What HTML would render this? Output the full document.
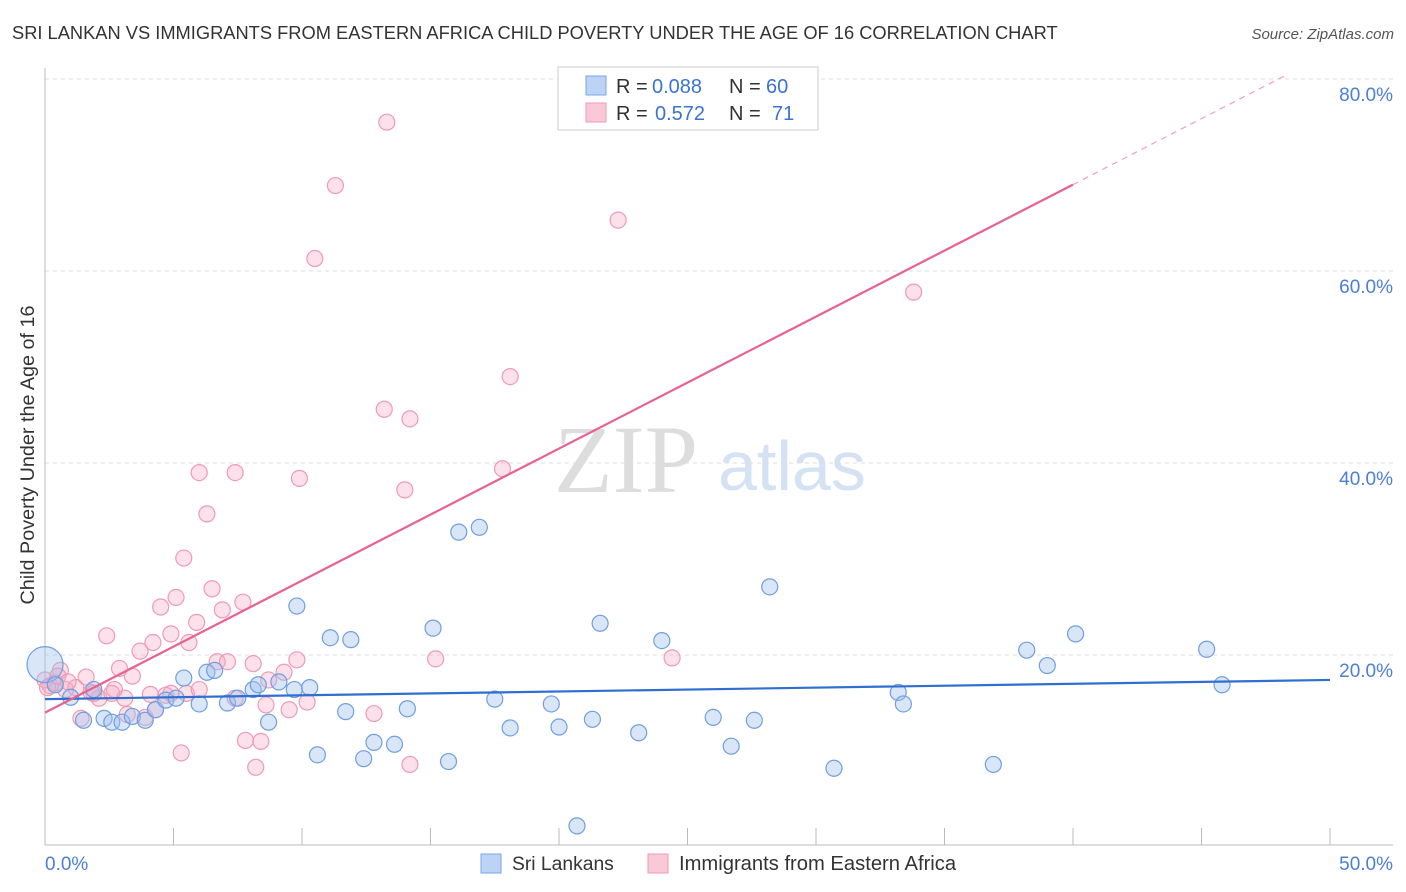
<!DOCTYPE html>
<html><head><meta charset="utf-8"><style>
body{margin:0;background:#fff;font-family:"Liberation Sans",sans-serif;}
#c{position:relative;width:1406px;height:892px;overflow:hidden;}
</style></head><body>
<div id="c">
<svg id="s" width="1406" height="892" xmlns="http://www.w3.org/2000/svg">
<text x="12" y="39" font-size="18.3" fill="#333">SRI LANKAN VS IMMIGRANTS FROM EASTERN AFRICA CHILD POVERTY UNDER THE AGE OF 16 CORRELATION CHART</text>
<text x="1394" y="39" font-size="15" fill="#555" font-style="italic" text-anchor="end">Source: ZipAtlas.com</text>
<text x="554" y="492" font-size="96" fill="#ddd" font-family="Liberation Serif">ZIP</text>
<text x="718" y="490" font-size="70" fill="#d4e2f4">atlas</text>
<text transform="translate(34,455) rotate(-90)" font-size="19.8" fill="#333" text-anchor="middle">Child Poverty Under the Age of 16</text>
<g id="grid"></g><g id="pts"></g><g id="lines"></g>
<rect x="558" y="67" width="260" height="63" fill="#fff" stroke="#ccc"/>
<rect x="586" y="76" width="20" height="19" fill="#bcd3f5" stroke="#7aa6e6"/>
<rect x="586" y="103" width="20" height="19" fill="#f9c9d8" stroke="#ef9ab5"/>
<g font-size="20" fill="#333">
<text x="616" y="93">R =</text><text x="652" y="93" fill="#3b73d1">0.088</text><text x="729" y="93">N =</text><text x="766" y="93" fill="#3b73d1">60</text></g>
<g font-size="20" fill="#333">
<text x="616" y="120">R =</text><text x="655" y="120" fill="#3b73d1">0.572</text><text x="729" y="120">N =</text><text x="772" y="120" fill="#3b73d1">71</text></g>
<rect x="481" y="854" width="20" height="19" fill="#bcd3f5" stroke="#7aa6e6"/>
<text x="512" y="870" font-size="19.3" fill="#333">Sri Lankans</text>
<rect x="648" y="854" width="20" height="19" fill="#f9c9d8" stroke="#ef9ab5"/>
<text x="679" y="870" font-size="20.2" fill="#333">Immigrants from Eastern Africa</text>
<text x="45" y="870" font-size="19" fill="#4a7fd4">0.0%</text>
<text x="1393" y="870" font-size="19" fill="#4a7fd4" text-anchor="end">50.0%</text>
</svg></div>
<script>
const blueX=[0,0.4,1.0,1.5,1.9,2.3,2.6,3.0,3.4,3.9,4.3,4.7,5.1,5.4,6.0,6.3,6.6,7.1,7.5,8.1,8.3,8.7,9.1,9.7,9.8,10.3,10.6,11.1,11.7,11.9,12.4,12.8,13.6,14.1,15.1,15.7,16.1,16.9,17.5,18.1,19.7,20.0,20.7,21.3,21.6,23.1,24.0,26.0,26.7,27.6,28.2,30.7,33.2,33.4,36.9,38.2,39.0,40.1,45.2,45.8];
const blueY=[19.0,16.9,15.6,13.2,16.4,13.4,13.0,13.0,13.6,13.2,14.3,15.3,15.5,17.6,14.9,18.2,18.4,15.0,15.5,16.4,16.9,13.0,17.2,16.4,25.1,16.6,9.6,21.8,14.1,21.6,9.2,10.9,10.7,14.4,22.8,8.9,32.8,33.3,15.4,12.4,14.9,12.5,2.2,13.3,23.3,11.9,21.5,13.5,10.5,13.2,27.1,8.2,16.1,14.9,8.6,20.5,18.9,22.2,20.6,16.9];
const pinkX=[0,0.2,0.4,0.6,0.8,1.2,1.4,1.6,1.9,2.1,2.4,2.6,2.9,3.1,3.4,3.7,3.9,4.1,4.2,4.3,4.5,4.9,4.9,5.1,5.3,5.4,5.5,5.6,5.9,6.0,6.3,6.5,6.7,6.9,7.1,7.4,7.4,7.7,7.8,8.1,8.2,8.4,8.6,8.7,9.3,9.5,9.8,9.9,10.2,10.5,11.3,12.8,13.2,13.3,14.0,14.2,14.2,15.2,17.8,18.1,22.3,24.4,33.8,0.1,0.5,0.9,1.8,2.7,3.2,4.7,6.0];
const pinkY=[17.4,16.8,17.1,18.4,16.4,16.6,13.4,17.7,16.0,15.5,22.0,16.0,18.6,15.5,17.8,20.4,13.5,15.9,21.3,14.3,25.0,16.0,22.2,26.0,9.8,30.1,16.0,21.3,23.4,39.0,34.7,26.9,19.3,24.7,19.3,39.0,15.5,25.5,11.1,19.1,8.3,11.0,14.8,17.4,18.2,14.3,19.5,38.4,15.1,61.3,68.9,13.9,45.6,75.5,37.2,44.6,8.6,19.6,39.4,49.0,65.3,19.7,57.8,16.6,17.8,17.2,16.1,16.4,13.8,15.8,16.4];
const yTicks=[20,40,60,80];
const blueLine=[15.4,17.4];
const pinkLine=[14.0,1.375];
const NS='http://www.w3.org/2000/svg';
const sx=v=>45+v*25.7, sy=v=>847-v*9.6;
function mk(t,a,p){const e=document.createElementNS(NS,t);for(const k in a)e.setAttribute(k,a[k]);p.appendChild(e);return e;}
const g=document.getElementById('grid');
for(const t of yTicks){
 const l=mk('line',{x1:45,x2:1393,y1:sy(t),y2:sy(t),stroke:'#ddd','stroke-dasharray':'4,4'},g);
 
 
 const tx=mk('text',{x:1393,y:sy(t)+22,'font-size':19,fill:'#4a7fd4','text-anchor':'end'},g);
 tx.textContent=t.toFixed(1)+'%';
 
 
}
const ax=mk('line',{x1:45,x2:45,y1:68,y2:845,stroke:'#bbb'},g);


const bx=mk('line',{x1:45,x2:1393,y1:845,y2:845,stroke:'#bbb'},g);


for(let i=0;i<=10;i++){
 const tk=mk('line',{x1:sx(i*5),x2:sx(i*5),y1:828,y2:845,stroke:'#bbb'},g);
 
 
}
const P=document.getElementById('pts');
pinkX.forEach((x,i)=>{
 const c=mk('circle',{cx:sx(x),cy:sy(pinkY[i]),r:8,fill:'rgba(246,170,196,0.35)',stroke:'#ef9ab5','stroke-width':1.2},P);
 
 
});
blueX.forEach((x,i)=>{
 const c=mk('circle',{cx:sx(x),cy:sy(blueY[i]),r:i==0?18:8,fill:'rgba(160,192,238,0.4)',stroke:'#6f9fe0','stroke-width':1.2},P);
 
 
});
const L=document.getElementById('lines');
const b=mk('line',{x1:sx(0),y1:sy(blueLine[0]),x2:sx(50),y2:sy(blueLine[1]),stroke:'#2f6fd0','stroke-width':2.2},L);


const pf=x=>pinkLine[0]+pinkLine[1]*x;
const p1=mk('line',{x1:sx(0),y1:sy(pf(0)),x2:sx(40),y2:sy(pf(40)),stroke:'#e8628f','stroke-width':2.2},L);


const xe=(80.5-pinkLine[0])/pinkLine[1];
const p2=mk('line',{x1:sx(40),y1:sy(pf(40)),x2:sx(xe),y2:sy(pf(xe)),stroke:'#f0a0bb','stroke-width':1.2,'stroke-dasharray':'6,5'},L);


</script>
</body></html>
